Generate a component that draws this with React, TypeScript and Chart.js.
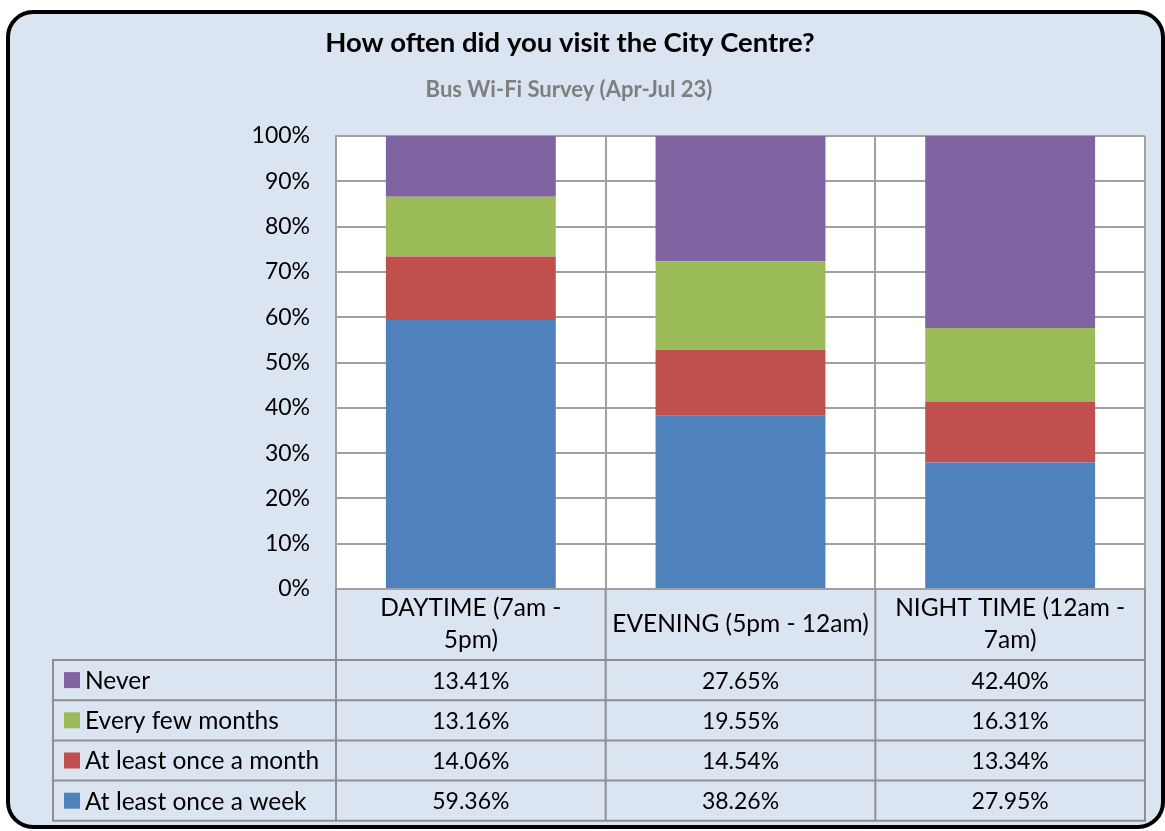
import React, { useEffect, useRef } from "react";
import { Chart, registerables } from "chart.js";

Chart.register(...registerables);

const TITLE = "How often did you visit the City Centre?";
const SUBTITLE = "Bus Wi-Fi Survey (Apr-Jul 23)";

const categories: string[][] = [
  ["DAYTIME (7am -", "5pm)"],
  ["EVENING (5pm - 12am)"],
  ["NIGHT TIME (12am -", "7am)"],
];

const seriesNames = ["At least once a week", "At least once a month", "Every few months", "Never"];
const weekly = [59.36, 38.26, 27.95];
const monthly = [14.06, 14.54, 13.34];
const fewMonths = [13.16, 19.55, 16.31];
const never = [13.41, 27.65, 42.4];
const seriesColors = ["#4f81bd", "#c0504d", "#9bbb59", "#8064a2"];

const yTicks = [0, 10, 20, 30, 40, 50, 60, 70, 80, 90, 100];

const FONT = "Lato, 'Open Sans', sans-serif";
const GRID = "#a0a0a0";
const TABLE_LINE = "#8f8f8f";

const bgPlugin = {
  id: "bgPlugin",
  beforeDraw(chart: any) {
    const ctx = chart.ctx;
    const { chartArea } = chart;
    ctx.save();
    const x = 8, y = 12, w = 1155, h = 815, r = 25;
    ctx.beginPath();
    ctx.moveTo(x + r, y);
    ctx.lineTo(x + w - r, y);
    ctx.arcTo(x + w, y, x + w, y + r, r);
    ctx.lineTo(x + w, y + h - r);
    ctx.arcTo(x + w, y + h, x + w - r, y + h, r);
    ctx.lineTo(x + r, y + h);
    ctx.arcTo(x, y + h, x, y + h - r, r);
    ctx.lineTo(x, y + r);
    ctx.arcTo(x, y, x + r, y, r);
    ctx.closePath();
    ctx.fillStyle = "#dbe5f1";
    ctx.fill();
    ctx.lineWidth = 4;
    ctx.strokeStyle = "#000000";
    ctx.stroke();
    ctx.fillStyle = "#ffffff";
    ctx.fillRect(chartArea.left, chartArea.top, chartArea.right - chartArea.left, chartArea.bottom - chartArea.top);
    // titles
    ctx.textAlign = "center";
    ctx.textBaseline = "alphabetic";
    ctx.fillStyle = "#000000";
    ctx.font = `bold 27.5px ${FONT}`;
    ctx.fillText(TITLE, 570, 52);
    ctx.fillStyle = "#7f7f7f";
    ctx.font = `bold 22px ${FONT}`;
    ctx.fillText(SUBTITLE, 569, 97);
    ctx.restore();
  },
};

const tablePlugin = {
  id: "tablePlugin",
  afterDraw(chart: any) {
    const ctx = chart.ctx;
    const { chartArea } = chart;
    const xs = chart.scales.x;
    const n = categories.length;
    const step = (chartArea.right - chartArea.left) / n;
    const bounds: number[] = [];
    for (let i = 0; i <= n; i++) bounds.push(chartArea.left + step * i);
    const top = chartArea.bottom;
    const headerBottom = top + 71;
    const rowH = 40.2;
    const rows = [
      { name: seriesNames[3], color: seriesColors[3], vals: never },
      { name: seriesNames[2], color: seriesColors[2], vals: fewMonths },
      { name: seriesNames[1], color: seriesColors[1], vals: monthly },
      { name: seriesNames[0], color: seriesColors[0], vals: weekly },
    ];
    const tableBottom = headerBottom + rowH * rows.length;
    const leftX = 53;
    ctx.save();
    ctx.strokeStyle = TABLE_LINE;
    ctx.lineWidth = 2;
    ctx.beginPath();
    for (let i = 0; i <= n; i++) {
      ctx.moveTo(bounds[i], top);
      ctx.lineTo(bounds[i], tableBottom);
    }
    ctx.moveTo(leftX, headerBottom);
    ctx.lineTo(leftX, tableBottom);
    for (let r = 0; r <= rows.length; r++) {
      const yy = headerBottom + rowH * r;
      ctx.moveTo(leftX - 1, yy);
      ctx.lineTo(bounds[n] + 1, yy);
    }
    ctx.stroke();

    ctx.fillStyle = "#000000";
    ctx.font = `24.5px ${FONT}`;
    ctx.textAlign = "center";
    ctx.textBaseline = "middle";
    categories.forEach((lines, i) => {
      const cx = xs.getPixelForValue(i);
      const mid = (top + headerBottom) / 2;
      const lh = 32;
      lines.forEach((ln, j) => {
        const yy = mid + (j - (lines.length - 1) / 2) * lh;
        ctx.fillText(ln, cx, yy);
      });
    });
    rows.forEach((row, r) => {
      const cy = headerBottom + rowH * r + rowH / 2;
      ctx.fillStyle = row.color;
      ctx.fillRect(64, cy - 8, 16, 16);
      ctx.fillStyle = "#000000";
      ctx.textAlign = "left";
      ctx.font = `24.5px ${FONT}`;
      ctx.fillText(row.name, 85, cy + 1);
      ctx.textAlign = "center";
      ctx.font = `23px ${FONT}`;
      row.vals.forEach((v, i) => {
        ctx.fillText(v.toFixed(2) + "%", xs.getPixelForValue(i), cy + 1);
      });
    });
    ctx.restore();
  },
};

export default function App() {
  const ref = useRef<HTMLCanvasElement | null>(null);
  useEffect(() => {
    if (!ref.current) return;
    const labels = categories.map((c) => c.join(" "));
    const data = [weekly, monthly, fewMonths, never];
    const chart = new Chart(ref.current, {
      type: "bar",
      data: {
        labels,
        datasets: seriesNames.map((name, i) => ({
          label: name,
          data: data[i],
          backgroundColor: seriesColors[i],
          borderWidth: 0,
          barPercentage: 0.63,
          categoryPercentage: 1,
        })),
      },
      options: {
        animation: false,
        responsive: false,
        layout: { padding: { top: 136, bottom: 242, left: 0, right: 20 } },
        plugins: {
          legend: { display: false },
          title: { display: false },
          tooltip: { enabled: false },
        },
        scales: {
          x: {
            stacked: true,
            offset: true,
            ticks: { display: false },
            grid: { color: GRID, lineWidth: 2, offset: true, drawTicks: false },
            border: { color: GRID, width: 2 },
            afterFit: (s: any) => { s.height = 0; },
          },
          y: {
            stacked: true,
            min: 0,
            max: 100,
            afterBuildTicks: (s: any) => { s.ticks = yTicks.map((v) => ({ value: v })); },
            ticks: {
              padding: 26,
              color: "#000000",
              font: { family: FONT, size: 23 },
              callback: (v: any) => v + "%",
            },
            grid: { color: GRID, lineWidth: 2, drawTicks: false },
            border: { color: GRID, width: 2 },
            afterFit: (s: any) => { s.width = 336; },
          },
        },
      },
      plugins: [bgPlugin, tablePlugin],
    });
    return () => chart.destroy();
  }, []);
  return (
    <div style={{ position: "absolute", left: 0, top: 0, width: 1165, height: 831 }}>
      <canvas ref={ref} width={1165} height={831} style={{ display: "block" }} />
    </div>
  );
}
